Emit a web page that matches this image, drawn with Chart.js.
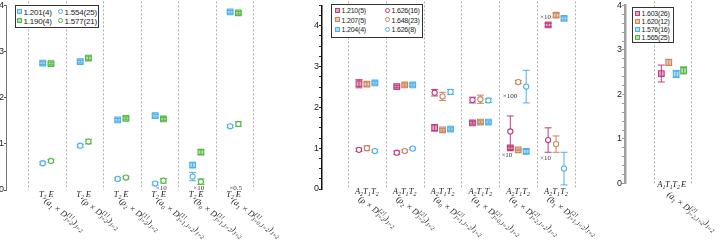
<!DOCTYPE html>
<html>
<head>
<meta charset="utf-8">
<script src="https://cdn.jsdelivr.net/npm/chart.js@4/dist/chart.umd.min.js"></script>
<style>
html,body{margin:0;padding:0;background:#fff;}
#wrap{position:relative;width:722px;height:250px;overflow:hidden;}
canvas{position:absolute;top:0;}
.lg{position:absolute;background:#fff;border:1.5px solid #333;box-sizing:border-box;font-family:"Liberation Sans",Arial,sans-serif;color:#222;letter-spacing:-0.2px;}
.it{position:absolute;white-space:nowrap;line-height:9px;}
.mk{display:inline-block;width:3px;height:3px;border:1px solid;margin-right:1.5px;vertical-align:0.5px;}
.mk.c{border-radius:50%;}
</style>
</head>
<body>
<div id="wrap">
  <canvas id="c1" width="320" height="250" style="left:-20px"></canvas>
  <canvas id="c2" width="350" height="250" style="left:262px"></canvas>
  <canvas id="c3" width="132" height="250" style="left:590px"></canvas>
</div>
<script>
// ---- panel 1 ----
const p1Labels = ['(a_1 × D^{[1]}_{J=2})_{J=2}', '(ρ × D^{[1]}_{J=2})_{J=2}', '(ρ_2 × D^{[1]}_{J=2})_{J=2}',
  '(a_0 × D^{[1]}_{J=1,J=2})_{J=2}', '(b_0 × D^{[1]}_{J=1,J=2})_{J=2}', '(a_1 × D^{[1]}_{J=0,J=2})_{J=2}'];
const p1Ops = ['T_2', 'E'];
const p1T2Sq = [2.75, 2.78, 1.52, 1.61, 0.54, 3.86];
const p1T2SqErr = [0.03, 0.03, 0.03, 0.03, 0.05, 0.03];
const p1ESq = [2.74, 2.86, 1.55, 1.54, 0.82, 3.84];
const p1ESqErr = [0.03, 0.04, 0.03, 0.03, 0.05, 0.03];
const p1T2Ci = [0.58, 0.96, 0.24, 0.14, 0.29, 1.38];
const p1T2CiErr = [0.03, 0.03, 0.03, 0.03, 0.09, 0.03];
const p1ECi = [0.63, 1.05, 0.27, 0.20, 0.18, 1.43];
const p1ECiErr = [0.03, 0.05, 0.03, 0.05, 0.06, 0.05];
const p1Legend = [['1.201(4)', '1.190(4)'], ['1.554(25)', '1.577(21)']];

// ---- panel 2 ----
const p2Labels = ['(ρ × D^{[2]}_{J=2})_{J=2}', '(ρ_2 × D^{[2]}_{J=2})_{J=2}', '(a_0 × D^{[2]}_{J=1,J=2})_{J=2}',
  '(a_1 × D^{[2]}_{J=0,J=2})_{J=2}', '(a_1 × D^{[2]}_{J=2,J=2})_{J=2}', '(b_1 × D^{[2]}_{J=1,J=2})_{J=2}'];
const p2Ops = ['A_2', 'T_1', 'T_2'];
const p2A2Sq = [2.58, 2.51, 1.50, 1.62, 1.01, 4.02];
const p2A2SqErr = [0.10, 0.03, 0.08, 0.03, 0.04, 0.04];
const p2T1Sq = [2.57, 2.55, 1.45, 1.64, 0.96, 4.26];
const p2T1SqErr = [0.05, 0.03, 0.03, 0.03, 0.02, 0.05];
const p2T2Sq = [2.60, 2.55, 1.47, 1.64, 0.92, 4.18];
const p2T2SqErr = [0.03, 0.03, 0.03, 0.03, 0.05, 0.04];
const p2A2Ci = [0.96, 0.89, 2.36, 2.18, 1.41, 1.20];
const p2A2CiErr = [0.04, 0.04, 0.08, 0.07, 0.38, 0.30];
const p2T1Ci = [1.00, 0.93, 2.27, 2.20, 2.62, 1.10];
const p2T1CiErr = [0.06, 0.03, 0.10, 0.10, 0.04, 0.20];
const p2T2Ci = [0.93, 0.99, 2.38, 2.17, 2.51, 0.50];
const p2T2CiErr = [0.03, 0.03, 0.06, 0.05, 0.40, 0.40];
const p2Legend = [['1.210(5)', '1.207(5)', '1.204(4)'], ['1.626(16)', '1.648(23)', '1.626(8)']];

// ---- panel 3 ----
const p3Labels = ['(a_1 × D^{[2]}_{J=2,J=2})_{J=2}'];
const p3Ops = ['A_1', 'T_1', 'T_2', 'E'];
const p3Vals = [2.47, 2.72, 2.46, 2.54];
const p3Errs = [0.19, 0.07, 0.08, 0.08];
const p3Legend = ['1.603(26)', '1.620(12)', '1.576(16)', '1.565(25)'];

const BLUE = '#4cb1e6', GREEN = '#55b845', MAG = '#c03c7c', ORANGE = '#c9875a';
function alpha(hex, a){
  const n = parseInt(hex.slice(1), 16);
  return `rgba(${n>>16},${(n>>8)&255},${n&255},${a})`;
}

function parseMath(s){
  const out = []; let i = 0, buf = '';
  const grp = () => {
    if (s[i] === '{'){ let d = 1, j = i + 1; while (d){ if (s[j] === '{') d++; else if (s[j] === '}') d--; j++; }
      const g = s.slice(i + 1, j - 1); i = j; return g; }
    return s[i++];
  };
  while (i < s.length){
    const c = s[i];
    if (c === '^' || c === '_'){
      if (buf){ out.push({t: buf}); buf = ''; }
      i++; const tok = {}; tok[c === '^' ? 'sup' : 'sub'] = grp();
      if (s[i] === '^' || s[i] === '_'){ const c2 = s[i]; i++; tok[c2 === '^' ? 'sup' : 'sub'] = grp(); }
      out.push(tok);
    } else { buf += c; i++; }
  }
  if (buf) out.push({t: buf});
  return out;
}

function drawMath(ctx, s, x, y, size, align, angle){
  const toks = parseMath(s);
  const fN = `italic ${size}px "Liberation Serif", serif`, fS = `italic ${size*0.7}px "Liberation Serif", serif`;
  const w = t => {
    if (t.t){ ctx.font = fN; return ctx.measureText(t.t).width; }
    ctx.font = fS;
    return Math.max(t.sup ? ctx.measureText(t.sup).width : 0, t.sub ? ctx.measureText(t.sub).width : 0);
  };
  const total = toks.reduce((a, t) => a + w(t), 0);
  ctx.save(); ctx.translate(x, y); ctx.rotate(angle * Math.PI / 180);
  ctx.textAlign = 'left'; ctx.textBaseline = 'alphabetic';
  let cx = align === 'center' ? -total / 2 : 0;
  toks.forEach(t => {
    const tw = w(t);
    if (t.t){ ctx.font = fN; ctx.fillText(t.t, cx, 0); }
    else { ctx.font = fS; if (t.sup) ctx.fillText(t.sup, cx, -size*0.38); if (t.sub) ctx.fillText(t.sub, cx, size*0.28); }
    cx += tw;
  });
  ctx.restore();
}

const deco = {};
const decoPlugin = {
  id: 'deco',
  beforeDatasetsDraw(chart){
    const o = deco[chart.canvas.id]; const {ctx, chartArea: a, scales: {x, y}} = chart;
    ctx.save();
    ctx.setLineDash([2, 2]); ctx.strokeStyle = '#9a9a9a'; ctx.lineWidth = 0.8;
    for (let k = 0; k <= o.labels.length; k++){
      const px = Math.round(x.getPixelForValue(k + 0.5)) + 0.5;
      ctx.beginPath(); ctx.moveTo(px, Math.max(0, a.top - 4)); ctx.lineTo(px, a.bottom); ctx.stroke();
    }
    ctx.setLineDash([]); ctx.lineWidth = 1;
    chart.data.datasets.forEach(ds => {
      ctx.strokeStyle = ds.pointBorderColor;
      ds.data.forEach((p, j) => {
        const e = ds.errors[j], px = x.getPixelForValue(p.x);
        const y1 = y.getPixelForValue(p.y + e), y2 = y.getPixelForValue(p.y - e);
        ctx.beginPath();
        ctx.moveTo(px, y1); ctx.lineTo(px, y2);
        ctx.moveTo(px - 3.5, y1); ctx.lineTo(px + 3.5, y1);
        ctx.moveTo(px - 3.5, y2); ctx.lineTo(px + 3.5, y2);
        ctx.stroke();
      });
    });
    ctx.restore();
  },
  afterDraw(chart){
    const o = deco[chart.canvas.id]; const {ctx, chartArea: a, scales: {x, y}} = chart;
    ctx.save(); ctx.fillStyle = '#222';
    o.labels.forEach((lab, g) => {
      o.ops.forEach((op, k) => drawMath(ctx, op, x.getPixelForValue(g + 1 + o.offsets[k]), a.bottom + o.opDy, 8.5, 'center', 0));
      drawMath(ctx, lab, x.getPixelForValue(g + 1) + o.labDx, a.bottom + o.labDy, 8.5, 'left', 37);
    });
    ctx.fillStyle = '#333'; ctx.font = '7px "Liberation Serif", serif';
    ctx.textAlign = 'center'; ctx.textBaseline = 'middle';
    (o.notes || []).forEach(n => ctx.fillText(n[2], x.getPixelForValue(n[0] + n[3]), y.getPixelForValue(n[1])));
    ctx.restore();
  }
};

function ds(vals, errs, off, color, shape){
  return {
    data: vals.map((v, i) => ({x: i + 1 + off, y: v})),
    errors: errs,
    pointStyle: shape === 'sq' ? 'rect' : 'circle',
    pointRadius: shape === 'sq' ? 4 : 2.6,
    pointBorderColor: color,
    pointBackgroundColor: shape === 'sq' ? alpha(color, 0.45) : '#fff',
    pointBorderWidth: 1.1
  };
}

function makeChart(id, datasets, c){
  const ticks = [];
  for (let k = 0; k * c.step <= c.ymax + 1e-9; k++) ticks.push({value: Math.round(k * c.step * 100) / 100});
  return new Chart(document.getElementById(id), {
    type: 'scatter',
    data: {datasets},
    options: {
      responsive: false, animation: false, devicePixelRatio: 1,
      layout: {autoPadding: false, padding: c.pad},
      plugins: {legend: {display: false}, tooltip: {enabled: false}},
      scales: {
        x: {type: 'linear', display: false, min: c.xmin, max: c.xmax},
        y: {
          min: 0, max: c.ymax,
          afterFit: s => { s.width = c.yw; },
          afterBuildTicks: s => { s.ticks = ticks.slice(); },
          ticks: {autoSkip: false, padding: 0, color: '#222', font: {size: 9, family: 'Liberation Sans'},
                  callback: v => Number.isInteger(v) ? v : ''},
          grid: {drawOnChartArea: false, drawTicks: true, tickLength: c.tickLen, color: c.tickColor},
          border: {display: true, color: c.axisColor, width: c.axisWidth}
        }
      }
    },
    plugins: [decoPlugin]
  });
}

// panel 1
deco.c1 = {labels: p1Labels, ops: p1Ops, offsets: [-0.11, 0.11], opDy: 6.5, labDx: -3, labDy: 12,
  notes: [[4, 0.05, '×10', 0.05], [5, 0.05, '×10', 0.05], [6, 0.03, '×0.5', 0.04]]};
makeChart('c1', [
  ds(p1T2Sq, p1T2SqErr, -0.11, BLUE, 'sq'), ds(p1ESq, p1ESqErr, 0.11, GREEN, 'sq'),
  ds(p1T2Ci, p1T2CiErr, -0.11, BLUE, 'ci'), ds(p1ECi, p1ECiErr, 0.11, GREEN, 'ci')
], {pad: {left: 0, right: 47, top: 4, bottom: 60}, yw: 26, xmin: -0.09, xmax: 6.5, ymax: 4, step: 1,
    tickLen: 2, tickColor: '#555', axisColor: '#777', axisWidth: 1});

// panel 2
deco.c2 = {labels: p2Labels, ops: p2Ops, offsets: [-0.21, 0, 0.21], opDy: 5, labDx: -9, labDy: 11,
  notes: [[5, 2.27, '×100', -0.22], [5, 0.84, '×10', -0.3], [6, 4.22, '×10', -0.28], [6, 0.75, '×10', -0.28]]};
makeChart('c2', [
  ds(p2A2Sq, p2A2SqErr, -0.21, MAG, 'sq'), ds(p2T1Sq, p2T1SqErr, 0, ORANGE, 'sq'), ds(p2T2Sq, p2T2SqErr, 0.21, BLUE, 'sq'),
  ds(p2A2Ci, p2A2CiErr, -0.21, MAG, 'ci'), ds(p2T1Ci, p2T1CiErr, 0, ORANGE, 'ci'), ds(p2T2Ci, p2T2CiErr, 0.21, BLUE, 'ci')
], {pad: {left: 0, right: 37, top: 2, bottom: 61}, yw: 60, xmin: -0.187, xmax: 6.5, ymax: 4.5, step: 0.25,
    tickLen: 3, tickColor: '#222', axisColor: '#111', axisWidth: 1.5});

// panel 3
const p3Colors = [MAG, ORANGE, BLUE, GREEN];
const p3Offsets = [-0.3, -0.1, 0.1, 0.3];
deco.c3 = {labels: p3Labels, ops: p3Ops, offsets: p3Offsets, opDy: 3, labDx: -6, labDy: 12, notes: []};
makeChart('c3', p3Vals.map((v, i) => ds([v], [p3Errs[i]], p3Offsets[i], p3Colors[i], 'sq')),
  {pad: {left: 0, right: 31, top: 3.5, bottom: 66.5}, yw: 35, xmin: -0.28, xmax: 1.5, ymax: 4, step: 0.2,
   tickLen: 3, tickColor: '#999', axisColor: '#a0a0a0', axisWidth: 2.5});

// legends
const wrap = document.getElementById('wrap');
function legend(box, font, cols){
  const d = document.createElement('div'); d.className = 'lg';
  Object.assign(d.style, {left: box[0] + 'px', top: box[1] + 'px', width: box[2] + 'px', height: box[3] + 'px', fontSize: font + 'px'});
  cols.forEach(col => col.items.forEach((it, r) => {
    const s = document.createElement('span'); s.className = 'it';
    s.style.left = col.x + 'px'; s.style.top = (col.y0 + r * col.dy) + 'px';
    const bg = it.shape === 'c' ? '#fff' : alpha(it.color, 0.45);
    s.innerHTML = `<i class="mk ${it.shape}" style="border-color:${it.color};background:${bg}"></i>${it.text}`;
    d.appendChild(s);
  }));
  wrap.appendChild(d);
}
legend([15, 5, 84, 23], 8, [
  {x: 1, y0: 1.5, dy: 9, items: p1Legend[0].map((t, i) => ({text: t, color: [BLUE, GREEN][i], shape: 's'}))},
  {x: 42, y0: 1.5, dy: 9, items: p1Legend[1].map((t, i) => ({text: t, color: [BLUE, GREEN][i], shape: 'c'}))}
]);
legend([331, 4, 92, 34], 7, [
  {x: 3, y0: 1, dy: 9.5, items: p2Legend[0].map((t, i) => ({text: t, color: [MAG, ORANGE, BLUE][i], shape: 's'}))},
  {x: 53, y0: 1, dy: 9.5, items: p2Legend[1].map((t, i) => ({text: t, color: [MAG, ORANGE, BLUE][i], shape: 'c'}))}
]);
legend([632, 7, 42, 36], 7, [
  {x: 2, y0: 1, dy: 8, items: p3Legend.map((t, i) => ({text: t, color: p3Colors[i], shape: 's'}))}
]);
</script>
</body>
</html>
